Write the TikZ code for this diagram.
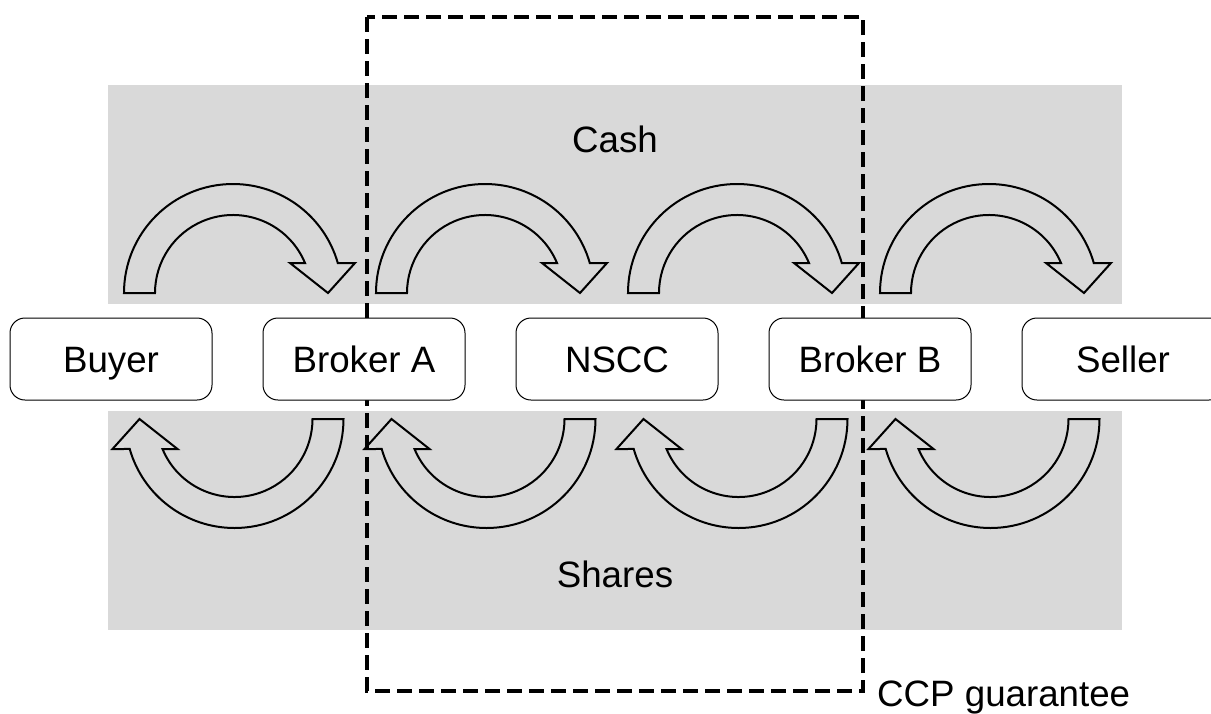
\documentclass[tikz,border=0pt]{standalone}
\usepackage{fontspec}
\setmainfont{Liberation Sans}
\definecolor{bandgray}{HTML}{D9D9D9}
\tikzset{
  band/.style={fill=bandgray, draw=none},
  arrowline/.style={draw=black, line width=2pt, fill=bandgray, line join=miter},
  party/.style={draw=black, line width=1pt, fill=white, rounded corners=15pt,
    minimum width=202pt, minimum height=82pt, inner sep=0pt,
    text height=26.2pt, text depth=0pt, font=\fontsize{36.7}{44}\selectfont},
  lbl/.style={inner sep=0pt, font=\fontsize{36.7}{44}\selectfont},
  ccp/.style={draw=black, line width=4.3pt, dash pattern=on 15pt off 7pt},
  flowarrow/.pic={
    \path[arrowline] (-109,0) arc[start angle=180, end angle=15.97, radius=109]
      -- (122,30) -- (95,0) -- (57,30) -- (72.0,30)
      arc[start angle=22.62, end angle=180, radius=78] -- cycle;
  }
}
\begin{document}
\begin{tikzpicture}[x=1pt, y=1pt]
\useasboundingbox (0,0) rectangle (1211,-713);
\clip (0,0) rectangle (1211,-713);
% bands
\fill[band] (108,-85) rectangle (1122,-304);
\fill[band] (108,-411) rectangle (1122,-630);
% cash and share flow arrows
\foreach \cx in {233,485,737,989} {
  \pic at (\cx,-293) {flowarrow};
  \pic[rotate=180] at (\cx+1.5,-419) {flowarrow};
}
% CCP guarantee frame
\draw[ccp] (367,-17) rectangle (863,-691);
% parties
\node[party] (buyer)   at (111,-359)  {Buyer};
\node[party] (brokerA) at (364,-359)  {Broker A};
\node[party] (nscc)    at (617,-359)  {NSCC};
\node[party] (brokerB) at (870,-359)  {Broker B};
\node[party] (seller)  at (1123,-359) {Seller};
% labels
\node[lbl, anchor=base] (cash) at (615,-152) {Cash};
\node[lbl, anchor=base] (shares) at (615,-587) {Shares};
\node[lbl, anchor=base west] (ccplabel) at (877,-706) {CCP guarantee};
\end{tikzpicture}
\end{document}
